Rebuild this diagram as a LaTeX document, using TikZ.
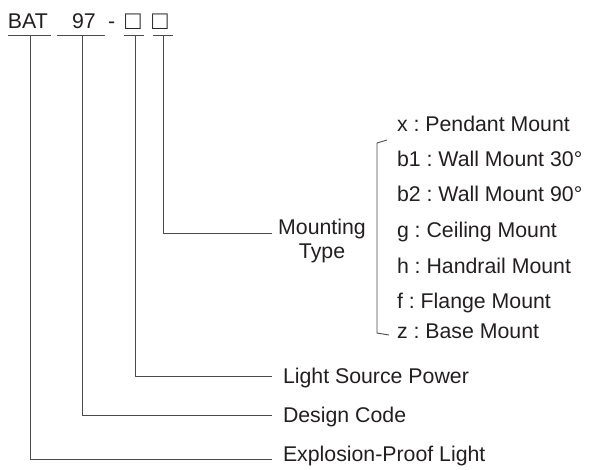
\documentclass[tikz,border=0pt]{standalone}
\usepackage{fontspec}
\setmainfont{Liberation Sans}
\frenchspacing
\definecolor{txt}{HTML}{231F20}
\definecolor{lncol}{HTML}{4A4A4A}
\begin{document}
\begin{tikzpicture}[x=1pt,y=-1pt,
  every node/.style={inner sep=0pt, outer sep=0pt, text=txt, font=\fontsize{21.3}{24}\selectfont},
  ln/.style={draw=lncol, line width=0.9pt},
  lbl/.style={anchor=base west},
  sq/.style={anchor=base west, font=\fontsize{26}{28}\selectfont}]
\useasboundingbox (0,0) rectangle (589,469);
% code parts
\node[lbl] (bat) at (8,28) {BAT};
\node[lbl] (n97) at (72,28) {97};
\node[lbl] (dsh) at (108,28) {-};
\node[sq] (sqa) at (125,29) {□};
\node[sq] (sqb) at (152,29) {□};
% underlines
\coordinate (ua1) at (8,35);   \coordinate (ua2) at (51,35);
\coordinate (ub1) at (57,35);  \coordinate (ub2) at (105,35);
\coordinate (uc1) at (124,35); \coordinate (uc2) at (144,35);
\coordinate (ud1) at (153,35); \coordinate (ud2) at (173,35);
\draw[ln] (ua1) -- (ua2);
\draw[ln] (ub1) -- (ub2);
\draw[ln] (uc1) -- (uc2);
\draw[ln] (ud1) -- (ud2);
\coordinate (ta) at (30,35);
\coordinate (tb) at (82,35);
\coordinate (tc) at (135,35);
\coordinate (td) at (163,35);
% labels
\node[lbl] (lsp) at (283,383) {Light Source Power};
\node[lbl] (dc) at (283,422) {Design Code};
\node[lbl] (epl) at (283,461) {Explosion-Proof Light};
\node[anchor=north, align=center, font=\fontsize{21.3}{24.5}\selectfont] (mt) at (322,219) {Mounting\\Type};
\coordinate (ea) at (272,459);
\coordinate (eb) at (272,415);
\coordinate (ec) at (272,376);
\coordinate (ed) at (272,233);
\draw[ln] (ta) |- (ea);
\draw[ln] (tb) |- (eb);
\draw[ln] (tc) |- (ec);
\draw[ln] (td) |- (ed);
% bracket
\coordinate (bt) at (387,140);
\coordinate (bb) at (389,335);
\draw[ln] (bt) -- (377,143) -- (377,333) -- (bb);
% options
\node[lbl] (ox) at (397,131) {x : Pendant Mount};
\node[lbl] (ob1) at (397,166) {b1 : Wall Mount 30°};
\node[lbl] (ob2) at (397,201) {b2 : Wall Mount 90°};
\node[lbl] (og) at (397,237) {g : Ceiling Mount};
\node[lbl] (oh) at (397,273) {h : Handrail Mount};
\node[lbl] (of) at (397,308) {f : Flange Mount};
\node[lbl] (oz) at (397,338) {z : Base Mount};
\end{tikzpicture}
\end{document}
